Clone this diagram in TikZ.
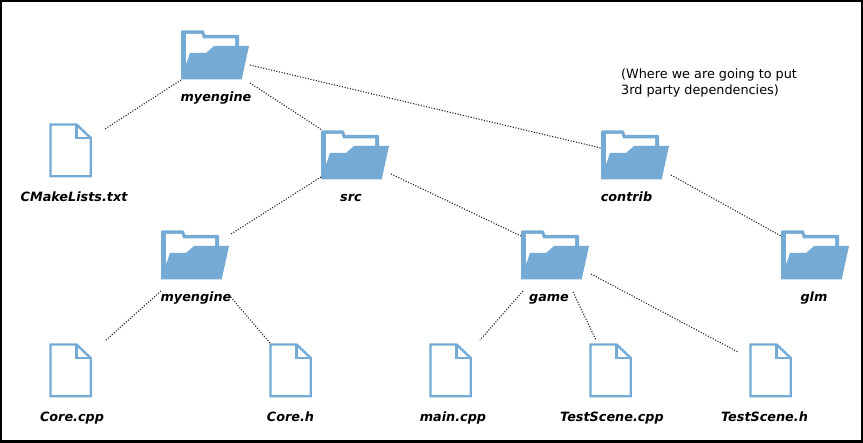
\documentclass[tikz,border=0pt]{standalone}
\usepackage{fontspec}
\setmainfont{DejaVu Sans}
\usepackage{xcolor}
\usepackage{tikz}
\usetikzlibrary{calc,positioning}
\definecolor{myblue}{RGB}{117,170,212}
\tikzset{
  folder/.style={minimum width=68pt, minimum height=50pt, inner sep=0pt, outer sep=0pt},
  docfile/.style={minimum width=44pt, minimum height=54pt, inner sep=0pt, outer sep=0pt},
  foldericon/.pic={
    \fill[myblue, rounded corners=1pt] (0,0.5) -- (23,0.5) -- (24,5) -- (58,5) -- (58,20) -- (58,49) -- (0,49) -- cycle;
    \fill[white] (5,3.8) -- (20.5,3.8) -- (22,8.5) -- (54,8.5) -- (54,20) -- (10,33) -- (5,33) -- cycle;
    \fill[myblue] (68,16) -- (33,16) -- (25,23) -- (9,23) -- (0,49.3) -- (60.7,49.3) -- cycle;
  },
  fileicon/.pic={
    \draw[myblue, line width=2.4pt, line join=miter]
      (1.5,1.5) -- (27.5,1.5) -- (41.7,15) -- (41.7,53.3) -- (1.5,53.3) -- cycle;
    \draw[myblue, line width=2.4pt] (27.5,1.5) -- (27.5,15) -- (41.7,15);
  },
  caption/.style={font=\bfseries\itshape\fontsize{12.8pt}{14pt}\selectfont, inner sep=0pt,
    text height=9pt, text depth=3pt},
  link/.style={line width=1.1pt, dash pattern=on 1.1pt off 1.6pt, black!85}
}

\begin{document}
\begin{tikzpicture}[x=1pt, y=-1pt]
  \useasboundingbox (0,0) rectangle (863,443);
  \draw[line width=2.5pt] (1.2,1.2) rectangle (861.8,441.6);

  \foreach \n/\x/\y/\lx/\t in {rootdir/181/30/216/myengine, src/321/130/351/src,
      contrib/601/130/626.5/contrib, libdir/161/230/196/myengine,
      game/521/230/549/game, glm/781/230/814/glm}{
    \pic at (\x,\y) {foldericon};
    \node[folder, anchor=north west] (\n) at (\x,\y){};
    \node[caption] (\n label) at (\lx,\y+69){\t};
  }
  \foreach \n/\x/\y/\lx/\t in {cmake/49/123/74/CMakeLists.txt, corecpp/49/343/72/Core.cpp,
      coreh/269/343/290.5/Core.h, maincpp/429/343/453/main.cpp,
      scenecpp/589/343/612/TestScene.cpp, sceneh/749/343/764.5/TestScene.h}{
    \pic at (\x,\y) {fileicon};
    \node[docfile, anchor=north west] (\n) at (\x,\y){};
    \node[caption] (\n label) at (\lx,\y+76){\t};
  }

  \node[anchor=north west, inner sep=0pt, align=left, font=\fontsize{12.8pt}{16pt}\selectfont]
    (note) at (621,69){(Where we are going to put\\3rd party dependencies)};

  \draw[link] (rootdir.south west) -- ([shift={(12,6)}]cmake.north east);
  \draw[link] ([shift={(1,3)}]rootdir.south east) -- ([shift={(1,0)}]src.north west);
  \draw[link] ([shift={(1,35)}]rootdir.north east) -- ([shift={(0,18)}]contrib.north west);
  \draw[link] ([shift={(0,-3)}]src.south west) -- ([shift={(2,4)}]libdir.north east);
  \draw[link] ([shift={(2,-6)}]src.south east) -- ([shift={(0,6)}]game.north west);
  \draw[link] ([shift={(2,-5)}]contrib.south east) -- ([shift={(0,6)}]glm.north west);
  \draw[link] ([shift={(0,11)}]libdir.south west) -- ([shift={(12,-2)}]corecpp.north east);
  \draw[link] ([shift={(0,15)}]libdir.south east) -- ([shift={(1,0)}]coreh.north west);
  \draw[link] ([shift={(2,11)}]game.south west) -- ([shift={(29,-3)}]maincpp.north);
  \draw[link] ([shift={(52,12)}]game.south west) -- ([shift={(7,-3)}]scenecpp.north west);
  \draw[link] ([shift={(2,-6)}]game.south east) -- ([shift={(-11,9)}]sceneh.north west);
\end{tikzpicture}
\end{document}
